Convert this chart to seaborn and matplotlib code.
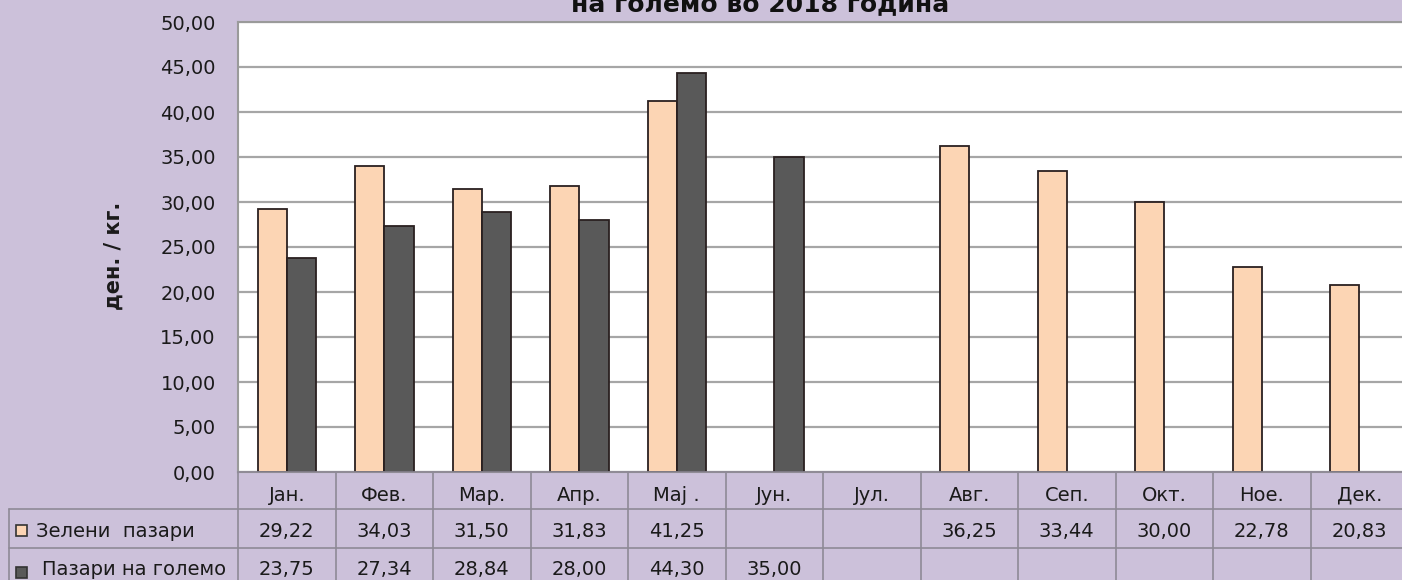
import numpy as np
import pandas as pd
import matplotlib
matplotlib.use("Agg")
import matplotlib.pyplot as plt
from matplotlib.patches import Rectangle
import seaborn as sns

months = ["Јан.", "Фев.", "Мар.", "Апр.", "Мај .", "Јун.", "Јул.", "Авг.", "Сеп.", "Окт.", "Ное.", "Дек."]
series_names = ["Зелени  пазари", "Пазари на големо"]
green_markets = [29.22, 34.03, 31.50, 31.83, 41.25, np.nan, np.nan, 36.25, 33.44, 30.00, 22.78, 20.83]
wholesale_markets = [23.75, 27.34, 28.84, 28.00, 44.30, 35.00, np.nan, np.nan, np.nan, np.nan, np.nan, np.nan]
y_ticks = [0, 5, 10, 15, 20, 25, 30, 35, 40, 45, 50]
title_text = "на големо во 2018 година"
y_label = "ден. / кг."

BG = "#CCC1DA"
LIGHT = "#FCD5B4"
DARK = "#595959"
EDGE = "#2a2020"
GRID = "#A6A6A6"
LINE = "#8E8A96"
TXT = "#1a1a1a"

sns.set_theme(style="white")
plt.rcParams["font.family"] = ["DejaVu Sans"]

W, H = 1402, 580
fig = plt.figure(figsize=(W / 100, H / 100), dpi=100)
fig.patch.set_facecolor(BG)

# plot area in pixels
L_px, R_px, T_px, B_px = 238, 1408, 22, 472
col_w = (R_px - L_px) / 12.0
ax = fig.add_axes([L_px / W, (H - B_px) / H, (R_px - L_px) / W, (B_px - T_px) / H])
ax.set_facecolor("white")

df = pd.DataFrame({
    "month": months * 2,
    "series": [series_names[0]] * 12 + [series_names[1]] * 12,
    "value": list(green_markets) + list(wholesale_markets),
})
df = df.dropna()

sns.barplot(data=df, x="month", y="value", hue="series", order=months,
            hue_order=series_names, palette=[LIGHT, DARK], width=0.6,
            edgecolor=EDGE, linewidth=1.3, saturation=1, errorbar=None,
            legend=False, ax=ax, zorder=3)

ax.set_xlim(-0.5, 11.5)
ax.set_ylim(0, 50)
ax.set_yticks(y_ticks)
ax.set_yticklabels([f"{v:.2f}".replace(".", ",") for v in y_ticks], fontsize=14, color=TXT)
ax.tick_params(axis="y", length=0, pad=16)
ax.set_xticks([])
ax.set_xlabel("")
ax.set_ylabel("")
ax.yaxis.grid(True, color=GRID, linewidth=1.6, zorder=0)
ax.set_axisbelow(True)
for s in ax.spines.values():
    s.set_color("#9a9a9a")
    s.set_linewidth(1.5)

fig.text(114 / W, 1 - 256 / H, y_label, rotation=90, ha="center", va="center",
         fontsize=15, fontweight="bold", color=TXT)
fig.text(760 / W, 1 - 11 / H, title_text, ha="center", va="baseline",
         fontsize=18, fontweight="bold", color="#111111")

# data table below the plot
tL_px = 9
tB_px = 587
tax = fig.add_axes([tL_px / W, (H - tB_px) / H, (R_px - tL_px) / W, (tB_px - B_px) / H])
tax.set_xlim(-0.5 - (L_px - tL_px) / col_w, 11.5)
tax.set_ylim(tB_px, B_px)
tax.axis("off")
tax.patch.set_alpha(0)


def px2x(px):
    return -0.5 + (px - L_px) / col_w


row_tops = [B_px, 509, 548, tB_px]
lw = 1.2
tax.plot([-0.5, 11.5], [row_tops[0], row_tops[0]], color=LINE, lw=lw, clip_on=False)
for yy in row_tops[1:3]:
    tax.plot([px2x(tL_px), 11.5], [yy, yy], color=LINE, lw=lw, clip_on=False)
for i in range(13):
    xx = -0.5 + i
    tax.plot([xx, xx], [row_tops[0], row_tops[3]], color=LINE, lw=lw, clip_on=False)
tax.plot([px2x(tL_px), px2x(tL_px)], [row_tops[1], row_tops[3]], color=LINE, lw=lw, clip_on=False)

txt_kw = dict(ha="center", va="baseline", fontsize=14, color=TXT)
for i, m in enumerate(months):
    tax.text(i, 501, m, **txt_kw)
for vals, base in [(green_markets, 537), (wholesale_markets, 575)]:
    for i, v in enumerate(vals):
        if not np.isnan(v):
            tax.text(i, base, f"{v:.2f}".replace(".", ","), **txt_kw)

# legend keys in left column
for (label, col, ytop, xtext, base) in [(series_names[0], LIGHT, 525, 36, 537),
                                        (series_names[1], DARK, 567, 42, 575)]:
    tax.add_patch(Rectangle((px2x(16), ytop), 11 / col_w, 11, facecolor=col,
                            edgecolor="#333333", lw=1.2, clip_on=False))
    tax.text(px2x(xtext), base, label, ha="left", va="baseline", fontsize=14, color=TXT)

fig.savefig("out.png", dpi=100, facecolor=BG)
